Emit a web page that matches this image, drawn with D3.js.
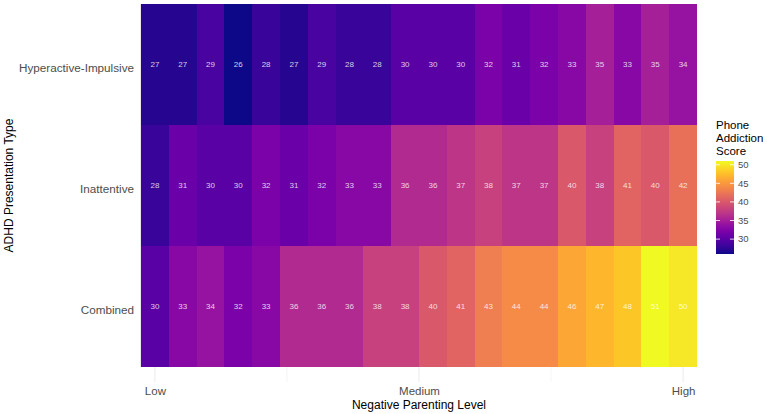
<!DOCTYPE html>
<html><head><meta charset="utf-8">
<script src="https://cdn.jsdelivr.net/npm/d3@7"></script>
<style>body{margin:0;background:#fff;} text{font-family:"Liberation Sans",Arial,sans-serif;}</style>
</head><body><svg id="c" width="767" height="414"></svg>
<script>
const rows = ["Hyperactive-Impulsive", "Inattentive", "Combined"];
const levels = d3.range(1, 21);
const hyperactive = [27,27,29,26,28,27,29,28,28,30,30,30,32,31,32,33,35,33,35,34];
const inattentive = [28,31,30,30,32,31,32,33,33,36,36,37,38,37,37,40,38,41,40,42];
const combined    = [30,33,34,32,33,36,36,36,38,38,40,41,43,44,44,46,47,48,51,50];
const xBreaks = [1, 10.5, 20];
const xBreakLabels = ["Low", "Medium", "High"];
const xMinor = [5.75, 15.25];
const legendTicks = [30, 35, 40, 45, 50];

const series = {"Hyperactive-Impulsive": hyperactive, "Inattentive": inattentive, "Combined": combined};
const cells = [];
rows.forEach(r => series[r].forEach((v, i) => cells.push({row: r, level: levels[i], value: v})));

const svg = d3.select("#c");
const L = 141, R = 697, T = 4, B = 367;
const x = d3.scaleLinear().domain([0.5, 20.5]).range([L, R]);
const y = d3.scaleBand().domain(rows).range([T, B]);
const vmin = d3.min(cells, d => d.value), vmax = d3.max(cells, d => d.value);
const color = d3.scaleSequential(d3.interpolatePlasma).domain([vmin, vmax]);

// gridlines below the tiles
const grid = svg.append("g");
xBreaks.concat(xMinor).forEach(b => {
  grid.append("line").attr("x1", x(b)).attr("x2", x(b)).attr("y1", T).attr("y2", 382)
    .attr("stroke", "#ebebeb").attr("stroke-width", xMinor.includes(b) ? 0.5 : 1);
});
grid.append("line").attr("x1", L - 0.5).attr("x2", L - 0.5).attr("y1", T).attr("y2", B)
  .attr("stroke", "#e6e6e6").attr("stroke-width", 1);

// tiles
svg.append("g").attr("shape-rendering", "crispEdges").selectAll("rect").data(cells).join("rect")
  .attr("x", d => x(d.level - 0.5))
  .attr("width", d => x(d.level + 0.5) - x(d.level - 0.5))
  .attr("y", d => y(d.row)).attr("height", y.bandwidth())
  .attr("fill", d => color(d.value));

svg.append("g").selectAll("text").data(cells).join("text")
  .attr("x", d => x(d.level)).attr("y", d => y(d.row) + y.bandwidth() / 2)
  .attr("text-anchor", "middle").attr("dominant-baseline", "central")
  .attr("font-size", 8).attr("fill", "#ffffff").attr("fill-opacity", 0.8)
  .text(d => d.value);

// x axis labels
const xa = svg.append("g").attr("transform", `translate(0,${B})`)
  .call(d3.axisBottom(x).tickValues(xBreaks).tickFormat((d, i) => xBreakLabels[i]).tickSize(0).tickPadding(20));
xa.select(".domain").remove();
xa.selectAll("text").attr("font-size", 11.5).attr("fill", "#4d4d4d").attr("font-family", "Liberation Sans, Arial, sans-serif");

svg.append("text").attr("x", (L + R) / 2).attr("y", 409).attr("text-anchor", "middle")
  .attr("font-size", 12).attr("fill", "#000").text("Negative Parenting Level");

// y axis labels
const ya = svg.append("g").attr("transform", `translate(${L},0)`)
  .call(d3.axisLeft(y).tickSize(0).tickPadding(7));
ya.select(".domain").remove();
ya.selectAll("text").attr("font-size", 11.7).attr("fill", "#4d4d4d").attr("font-family", "Liberation Sans, Arial, sans-serif")
  .attr("dy", "0.6em");

svg.append("text").attr("transform", `translate(13,${(T + B) / 2}) rotate(-90)`).attr("text-anchor", "middle")
  .attr("font-size", 12).attr("fill", "#000").text("ADHD Presentation Type");

// legend
const lg = svg.append("g");
["Phone", "Addiction", "Score"].forEach((t, i) => {
  lg.append("text").attr("x", 716).attr("y", 129 + i * 13).attr("font-size", 11.5).attr("fill", "#000").text(t);
});
const defs = svg.append("defs");
const grad = defs.append("linearGradient").attr("id", "g").attr("x1", 0).attr("x2", 0).attr("y1", 1).attr("y2", 0);
d3.range(0, 1.0001, 0.05).forEach(t => grad.append("stop").attr("offset", t).attr("stop-color", d3.interpolatePlasma(t)));
const ly = d3.scaleLinear().domain([vmin, vmax]).range([254, 161]);
lg.append("rect").attr("x", 716).attr("y", ly(vmax)).attr("width", 18).attr("height", ly(vmin) - ly(vmax)).attr("fill", "url(#g)");
legendTicks.forEach(v => {
  lg.append("line").attr("x1", 716).attr("x2", 720).attr("y1", ly(v)).attr("y2", ly(v)).attr("stroke", "#fff").attr("stroke-opacity", 0.8);
  lg.append("line").attr("x1", 730).attr("x2", 734).attr("y1", ly(v)).attr("y2", ly(v)).attr("stroke", "#fff").attr("stroke-opacity", 0.8);
  lg.append("text").attr("x", 738).attr("y", ly(v)).attr("dy", "0.35em").attr("font-size", 9.5).attr("fill", "#4d4d4d").text(v);
});
</script></body></html>
